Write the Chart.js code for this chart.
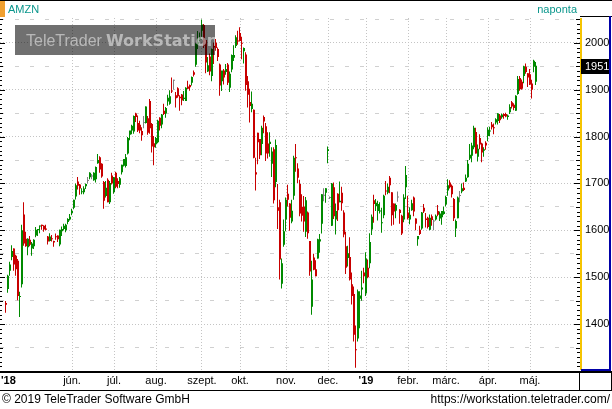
<!DOCTYPE html>
<html>
<head>
<meta charset="utf-8">
<script src="https://cdn.jsdelivr.net/npm/chart.js@4.4.0/dist/chart.umd.min.js"></script>
<style>
html, body { margin: 0; padding: 0; background: #fff; overflow: hidden; }
canvas { display: block; }
</style>
</head>
<body>
<canvas id="chart" width="612" height="409"></canvas>
<script>
// AMZN napi gyertyák (2018.04.16 - 2019.05.06)
const dates = [
  "2018-04-16","2018-04-17","2018-04-18","2018-04-19","2018-04-20","2018-04-23","2018-04-24","2018-04-25","2018-04-26","2018-04-27","2018-04-30",
  "2018-05-01","2018-05-02","2018-05-03","2018-05-04","2018-05-07","2018-05-08","2018-05-09","2018-05-10","2018-05-11","2018-05-14","2018-05-15","2018-05-16","2018-05-17","2018-05-18","2018-05-21","2018-05-22","2018-05-23","2018-05-24","2018-05-25","2018-05-29","2018-05-30","2018-05-31",
  "2018-06-01","2018-06-04","2018-06-05","2018-06-06","2018-06-07","2018-06-08","2018-06-11","2018-06-12","2018-06-13","2018-06-14","2018-06-15","2018-06-18","2018-06-19","2018-06-20","2018-06-21","2018-06-22","2018-06-25","2018-06-26","2018-06-27","2018-06-28","2018-06-29",
  "2018-07-02","2018-07-03","2018-07-05","2018-07-06","2018-07-09","2018-07-10","2018-07-11","2018-07-12","2018-07-13","2018-07-16","2018-07-17","2018-07-18","2018-07-19","2018-07-20","2018-07-23","2018-07-24","2018-07-25","2018-07-26","2018-07-27","2018-07-30","2018-07-31",
  "2018-08-01","2018-08-02","2018-08-03","2018-08-06","2018-08-07","2018-08-08","2018-08-09","2018-08-10","2018-08-13","2018-08-14","2018-08-15","2018-08-16","2018-08-17","2018-08-20","2018-08-21","2018-08-22","2018-08-23","2018-08-24","2018-08-27","2018-08-28","2018-08-29","2018-08-30","2018-08-31",
  "2018-09-04","2018-09-05","2018-09-06","2018-09-07","2018-09-10","2018-09-11","2018-09-12","2018-09-13","2018-09-14","2018-09-17","2018-09-18","2018-09-19","2018-09-20","2018-09-21","2018-09-24","2018-09-25","2018-09-26","2018-09-27","2018-09-28",
  "2018-10-01","2018-10-02","2018-10-03","2018-10-04","2018-10-05","2018-10-08","2018-10-09","2018-10-10","2018-10-11","2018-10-12","2018-10-15","2018-10-16","2018-10-17","2018-10-18","2018-10-19","2018-10-22","2018-10-23","2018-10-24","2018-10-25","2018-10-26","2018-10-29","2018-10-30","2018-10-31",
  "2018-11-01","2018-11-02","2018-11-05","2018-11-06","2018-11-07","2018-11-08","2018-11-09","2018-11-12","2018-11-13","2018-11-14","2018-11-15","2018-11-16","2018-11-19","2018-11-20","2018-11-21","2018-11-23","2018-11-26","2018-11-27","2018-11-28","2018-11-29","2018-11-30",
  "2018-12-03","2018-12-04","2018-12-06","2018-12-07","2018-12-10","2018-12-11","2018-12-12","2018-12-13","2018-12-14","2018-12-17","2018-12-18","2018-12-19","2018-12-20","2018-12-21","2018-12-24","2018-12-26","2018-12-27","2018-12-28","2018-12-31",
  "2019-01-02","2019-01-03","2019-01-04","2019-01-07","2019-01-08","2019-01-09","2019-01-10","2019-01-11","2019-01-14","2019-01-15","2019-01-16","2019-01-17","2019-01-18","2019-01-22","2019-01-23","2019-01-24","2019-01-25","2019-01-28","2019-01-29","2019-01-30","2019-01-31",
  "2019-02-01","2019-02-04","2019-02-05","2019-02-06","2019-02-07","2019-02-08","2019-02-11","2019-02-12","2019-02-13","2019-02-14","2019-02-15","2019-02-19","2019-02-20","2019-02-21","2019-02-22","2019-02-25","2019-02-26","2019-02-27","2019-02-28",
  "2019-03-01","2019-03-04","2019-03-05","2019-03-06","2019-03-07","2019-03-08","2019-03-11","2019-03-12","2019-03-13","2019-03-14","2019-03-15","2019-03-18","2019-03-19","2019-03-20","2019-03-21","2019-03-22","2019-03-25","2019-03-26","2019-03-27","2019-03-28","2019-03-29",
  "2019-04-01","2019-04-02","2019-04-03","2019-04-04","2019-04-05","2019-04-08","2019-04-09","2019-04-10","2019-04-11","2019-04-12","2019-04-15","2019-04-16","2019-04-17","2019-04-18","2019-04-22","2019-04-23","2019-04-24","2019-04-25","2019-04-26","2019-04-29","2019-04-30",
  "2019-05-01","2019-05-02","2019-05-03","2019-05-06"
];
const opens = [
  1445,1475,1514,1543,1561,1546,1535,1458,1485,1634,1582,
  1564,1580,1561,1566,1589,1600,1608,1612,1610,1604,1587,1577,1582,1577,1586,1589,1570,1598,1603,1600,1618,1623,
  1637,1648,1672,1704,1698,1681,1681,1694,1705,1713,1715,1707,1709,1743,1756,1742,1703,1673,1708,1660,1717,
  1682,1723,1705,1697,1724,1738,1737,1764,1804,1813,1811,1849,1829,1825,1812,1829,1829,1839,1876,1827,1786,
  1784,1788,1840,1826,1855,1849,1875,1870,1898,1919,1888,1903,1885,1890,1880,1876,1907,1910,1915,1937,1953,1997,2007,
  2026,2038,2006,1939,1971,1929,1994,2000,1987,1954,1918,1941,1938,1954,1904,1943,1968,1993,2004,
  2021,1999,1982,1975,1918,1874,1859,1857,1724,1808,1795,1784,1842,1822,1785,1784,1742,1773,1703,1649,1660,1486,1569,
  1623,1678,1657,1619,1674,1756,1732,1699,1650,1651,1597,1638,1577,1437,1542,1517,1540,1576,1614,1674,1680,
  1769,1669,1610,1692,1623,1678,1660,1680,1638,1566,1541,1543,1485,1464,1346,1369,1454,1474,1510,
  1465,1520,1530,1602,1664,1652,1641,1640,1615,1632,1684,1680,1712,1681,1657,1642,1670,1644,1631,1623,1692,
  1638,1623,1643,1670,1625,1581,1601,1604,1648,1625,1627,1601,1630,1619,1623,1641,1625,1628,1635,
  1655,1685,1702,1695,1667,1604,1626,1673,1683,1691,1704,1713,1753,1759,1777,1810,1757,1797,1785,1770,1787,
  1801,1811,1826,1820,1830,1833,1845,1841,1848,1848,1842,1852,1873,1868,1855,1891,1925,1917,1929,1949,1935,
  1933,1913,1949,1917
];
const highs = [
  1449,1505,1533,1568,1561,1548,1539,1469,1612,1660,1597,
  1583,1588,1575,1581,1607,1603,1610,1612,1611,1612,1588,1594,1590,1578,1593,1589,1601,1608,1614,1614,1626,1635,
  1646,1665,1700,1714,1699,1690,1694,1700,1714,1724,1720,1724,1736,1763,1758,1743,1705,1705,1711,1705,1723,
  1714,1725,1711,1714,1740,1751,1763,1799,1808,1825,1845,1851,1845,1834,1820,1844,1864,1844,1880,1829,1801,
  1799,1836,1841,1848,1870,1863,1889,1899,1926,1921,1895,1905,1888,1891,1897,1905,1919,1911,1928,1941,1999,2025,2022,
  2050,2040,2007,1970,1977,1988,2000,2008,1990,1956,1940,1944,1955,1957,1939,1975,1995,2016,2026,
  2033,2013,1990,1980,1929,1902,1896,1858,1755,1808,1795,1823,1845,1829,1809,1809,1777,1777,1794,1699,1665,1540,1623,
  1670,1697,1658,1665,1759,1784,1743,1708,1677,1673,1671,1640,1577,1535,1550,1536,1582,1592,1677,1690,1690,
  1779,1672,1701,1702,1657,1679,1704,1693,1643,1597,1567,1585,1510,1480,1397,1474,1470,1514,1520,
  1553,1538,1594,1634,1676,1667,1663,1660,1648,1676,1705,1700,1716,1681,1657,1657,1683,1645,1633,1677,1737,
  1674,1649,1665,1672,1625,1588,1610,1639,1656,1637,1629,1634,1634,1623,1634,1654,1640,1641,1651,
  1674,1709,1707,1698,1669,1623,1672,1684,1700,1702,1719,1750,1784,1787,1823,1819,1783,1805,1787,1777,1790,
  1820,1821,1831,1828,1839,1850,1848,1849,1850,1851,1847,1869,1876,1871,1888,1929,1929,1922,1951,1956,1935,
  1944,1921,1964,1959
];
const lows = [
  1424,1467,1503,1536,1514,1503,1451,1415,1478,1567,1565,
  1547,1566,1546,1560,1585,1588,1594,1601,1597,1600,1570,1576,1576,1565,1580,1575,1566,1588,1600,1596,1613,1621,
  1632,1645,1666,1687,1676,1677,1677,1688,1700,1709,1709,1706,1702,1742,1723,1712,1646,1670,1660,1656,1698,
  1678,1690,1690,1691,1719,1736,1734,1762,1792,1805,1806,1831,1810,1807,1791,1818,1828,1804,1806,1766,1739,
  1776,1786,1813,1818,1846,1840,1866,1868,1893,1900,1862,1883,1855,1867,1876,1876,1901,1898,1909,1928,1949,1987,2004,
  2013,1989,1935,1938,1931,1918,1955,1983,1961,1887,1897,1911,1932,1910,1895,1937,1961,1989,1996,
  2003,1965,1956,1898,1862,1830,1852,1754,1685,1741,1752,1760,1807,1748,1753,1757,1714,1657,1692,1603,1495,1476,1565,
  1598,1651,1599,1615,1665,1725,1701,1630,1619,1597,1586,1582,1503,1420,1515,1502,1540,1552,1593,1662,1659,
  1743,1667,1609,1624,1591,1620,1660,1642,1585,1507,1523,1493,1442,1363,1307,1363,1391,1450,1487,
  1460,1498,1519,1590,1616,1641,1621,1636,1595,1626,1675,1677,1679,1610,1612,1626,1661,1614,1590,1617,1667,
  1623,1613,1642,1630,1600,1567,1590,1601,1637,1606,1604,1600,1610,1600,1621,1630,1620,1612,1633,
  1651,1674,1689,1670,1620,1586,1626,1660,1679,1684,1703,1712,1750,1745,1773,1764,1747,1773,1745,1757,1772,
  1790,1801,1815,1805,1826,1826,1829,1838,1838,1841,1836,1848,1860,1856,1855,1889,1898,1900,1914,1934,1906,
  1910,1881,1937,1910
];
const closes = [
  1441,1503,1527,1556,1527,1517,1460,1460,1600,1572,1566,
  1582,1569,1572,1580,1601,1603,1609,1609,1602,1601,1576,1587,1581,1574,1585,1581,1601,1603,1610,1612,1624,1629,
  1641,1665,1696,1695,1689,1683,1689,1699,1705,1723,1715,1723,1735,1750,1730,1715,1663,1691,1660,1701,1700,
  1713,1693,1699,1711,1740,1752,1756,1797,1813,1823,1844,1842,1813,1813,1803,1829,1864,1808,1818,1779,1777,
  1797,1834,1823,1847,1848,1861,1883,1886,1896,1919,1882,1886,1882,1877,1883,1904,1902,1905,1927,1932,1998,2002,2012,
  2039,1994,1958,1952,1939,1987,1990,1989,1970,1909,1941,1926,1944,1915,1934,1974,1974,2012,2003,
  2004,1998,1989,1910,1889,1865,1870,1755,1719,1788,1760,1819,1832,1764,1764,1789,1768,1664,1782,1642,1538,1530,1598,
  1665,1665,1627,1642,1755,1754,1712,1636,1631,1619,1664,1594,1512,1495,1516,1502,1581,1581,1677,1674,1690,
  1773,1669,1700,1630,1641,1643,1663,1658,1591,1520,1551,1495,1460,1377,1344,1470,1461,1478,1502,
  1540,1500,1575,1629,1656,1659,1656,1641,1617,1674,1683,1693,1696,1632,1640,1654,1670,1637,1593,1670,1718,
  1626,1633,1658,1640,1614,1588,1592,1638,1640,1622,1607,1627,1622,1619,1631,1633,1636,1641,1640,
  1671,1696,1692,1677,1626,1620,1670,1673,1690,1686,1712,1742,1761,1781,1819,1764,1774,1783,1766,1773,1781,
  1814,1813,1820,1818,1837,1849,1835,1847,1844,1843,1845,1863,1864,1861,1887,1923,1901,1902,1950,1938,1926,
  1911,1900,1962,1951
];

// tengely feliratok
const monthLabels = ["'18", "jún.", "júl.", "aug.", "szept.", "okt.", "nov.", "dec.", "'19", "febr.", "márc.", "ápr.", "máj."];
const monthStarts = ["2018-04-16", "2018-06-01", "2018-07-02", "2018-08-01", "2018-09-04", "2018-10-01", "2018-11-01", "2018-12-03", "2019-01-02", "2019-02-01", "2019-03-01", "2019-04-01", "2019-05-01"];
const yTicks = [1400, 1500, 1600, 1700, 1800, 1900, 2000];
const yMinorTicks = [1350, 1450, 1550, 1650, 1750, 1850, 1950, 2050];

const GREEN = '#008a00';
const RED = '#c80000';
const GREY = '#808080';
const FONT = 'Liberation Sans, Arial, sans-serif';

const candleColors = opens.map((o, i) => closes[i] > o ? GREEN : (closes[i] < o ? RED : GREY));
const monthIdx = monthStarts.map(d => dates.indexOf(d));

// keret, feliratok, tengely jelölések
const framePlugin = {
  id: 'frame',
  afterDatasetsDraw(chart) {
    const ctx = chart.ctx;
    // TeleTrader WorkStation vízjel
    ctx.save();
    ctx.fillStyle = 'rgba(0,0,0,0.56)';
    ctx.fillRect(15, 25, 200, 30);
    ctx.beginPath();
    ctx.rect(15, 25, 200, 30);
    ctx.clip();
    ctx.fillStyle = 'rgba(255,255,255,0.5)';
    ctx.textBaseline = 'alphabetic';
    ctx.font = '16px ' + FONT;
    ctx.fillText('TeleTrader', 26, 46);
    ctx.font = 'bold 16px DejaVu Sans, sans-serif';
    ctx.fillText('WorkStation', 106, 46);
    ctx.restore();
  },
  afterDraw(chart) {
    const ctx = chart.ctx;
    const area = chart.chartArea;
    const yScale = chart.scales.y;
    const xScale = chart.scales.x;
    ctx.save();

    // bal és jobb oldali apró jelölések
    ctx.fillStyle = '#000';
    for (let v = Math.ceil(yScale.min / 10) * 10; v <= yScale.max; v += 10) {
      const py = Math.round(yScale.getPixelForValue(v));
      const len = v % 100 === 0 ? 6 : (v % 50 === 0 ? 4 : 3);
      ctx.fillRect(area.right - len, py, len, 1);
      ctx.fillRect(0, py, len - 1, 1);
    }

    // jobb oldali panel
    ctx.fillStyle = '#f5c400';
    ctx.fillRect(area.right, area.top, 2, area.bottom - area.top);
    ctx.fillStyle = '#000';
    ctx.fillRect(area.right, 16, 32, 1);
    ctx.fillStyle = '#0000a8';
    ctx.fillRect(609, 16, 2, 355);
    ctx.fillRect(area.right + 1, 369, 30, 2);

    // utolsó ár
    const last = closes[closes.length - 1];
    const ly = Math.round(yScale.getPixelForValue(last));
    ctx.fillStyle = '#000';
    ctx.fillRect(area.right + 1, ly - 7, 28, 15);
    ctx.fillStyle = '#fff';
    ctx.font = '11px ' + FONT;
    ctx.textBaseline = 'middle';
    ctx.textAlign = 'left';
    ctx.fillText(String(last), area.right + 5, ly + 1);

    // fejléc
    ctx.fillStyle = '#000';
    ctx.fillRect(0, 0, 612, 1);
    ctx.fillStyle = '#f0a030';
    ctx.fillRect(0, 1, 5, 16);
    ctx.fillStyle = '#0a968c';
    ctx.font = '11px ' + FONT;
    ctx.textBaseline = 'middle';
    ctx.fillText('AMZN', 8, 10);
    ctx.textAlign = 'right';
    ctx.fillText('naponta', 577, 10);

    // idő tengely sáv
    ctx.fillStyle = '#000';
    ctx.fillRect(0, 371, 612, 2);
    ctx.fillRect(0, 390, 612, 1);
    ctx.fillRect(area.right - 1, 371, 1, 20);
    ctx.fillRect(611, 371, 1, 20);
    ctx.textAlign = 'center';
    ctx.textBaseline = 'middle';
    monthLabels.forEach((lab, k) => {
      const isYear = lab.charAt(0) === "'";
      ctx.font = (isYear ? 'bold ' : '') + '11px ' + FONT;
      if (k === 0) {
        ctx.textAlign = 'left';
        ctx.fillText(lab, 1, 381);
        ctx.textAlign = 'center';
      } else {
        ctx.fillText(lab, xScale.getPixelForValue(monthIdx[k]), 381);
      }
    });

    // lábléc
    ctx.font = '12px ' + FONT;
    ctx.textAlign = 'left';
    ctx.fillText('\u00a9 2019 TeleTrader Software GmbH', 2, 400);
    ctx.textAlign = 'right';
    ctx.fillText('https://workstation.teletrader.com/', 610, 400);
    ctx.restore();
  }
};

const ctx = document.getElementById('chart').getContext('2d');
const chart = new Chart(ctx, {
  type: 'bar',
  data: {
    datasets: [
      {
        label: 'kanóc',
        data: dates.map((d, i) => ({ x: i - 0.25, y: [lows[i], highs[i]] })),
        backgroundColor: candleColors,
        barThickness: 1,
        grouped: false,
        inflateAmount: 0,
        borderWidth: 0,
        order: 2
      },
      {
        label: 'test',
        data: dates.map((d, i) => ({ x: i, y: [opens[i], closes[i]] })),
        backgroundColor: candleColors,
        barThickness: 2,
        minBarLength: 1,
        grouped: false,
        inflateAmount: 0,
        borderWidth: 0,
        order: 1
      }
    ]
  },
  options: {
    responsive: false,
    animation: false,
    devicePixelRatio: 1,
    layout: { padding: { top: 18, left: 0, right: 0, bottom: 0 } },
    plugins: { legend: { display: false }, tooltip: { enabled: false } },
    scales: {
      x: {
        type: 'linear',
        min: -3,
        max: 287,
        offset: false,
        grid: { color: '#c4c4c4', lineWidth: 1, drawTicks: false, offset: false },
        border: { display: false, dash: [1, 2] },
        ticks: { display: false },
        afterBuildTicks: axis => { axis.ticks = monthIdx.slice(1).map(v => ({ value: v })); },
        afterFit: scale => { scale.height = 39; }
      },
      y: {
        position: 'right',
        min: 1302,
        max: 2053,
        grid: { color: '#c4c4c4', lineWidth: 1, drawTicks: false },
        border: { display: false, dash: [1, 2] },
        ticks: {
          color: '#000',
          padding: 5,
          font: { family: FONT, size: 11 },
          callback: v => String(v)
        },
        afterBuildTicks: axis => { axis.ticks = yTicks.map(v => ({ value: v })); },
        afterFit: scale => { scale.width = 32; }
      },
      y2: {
        position: 'left',
        min: 1302,
        max: 2053,
        grid: { color: '#d0d0d0', lineWidth: 1, drawTicks: false },
        border: { display: false, dash: [4, 11] },
        ticks: { display: false },
        afterBuildTicks: axis => { axis.ticks = yMinorTicks.map(v => ({ value: v })); },
        afterFit: scale => { scale.width = 0; }
      }
    }
  },
  plugins: [framePlugin]
});
</script>
</body>
</html>
